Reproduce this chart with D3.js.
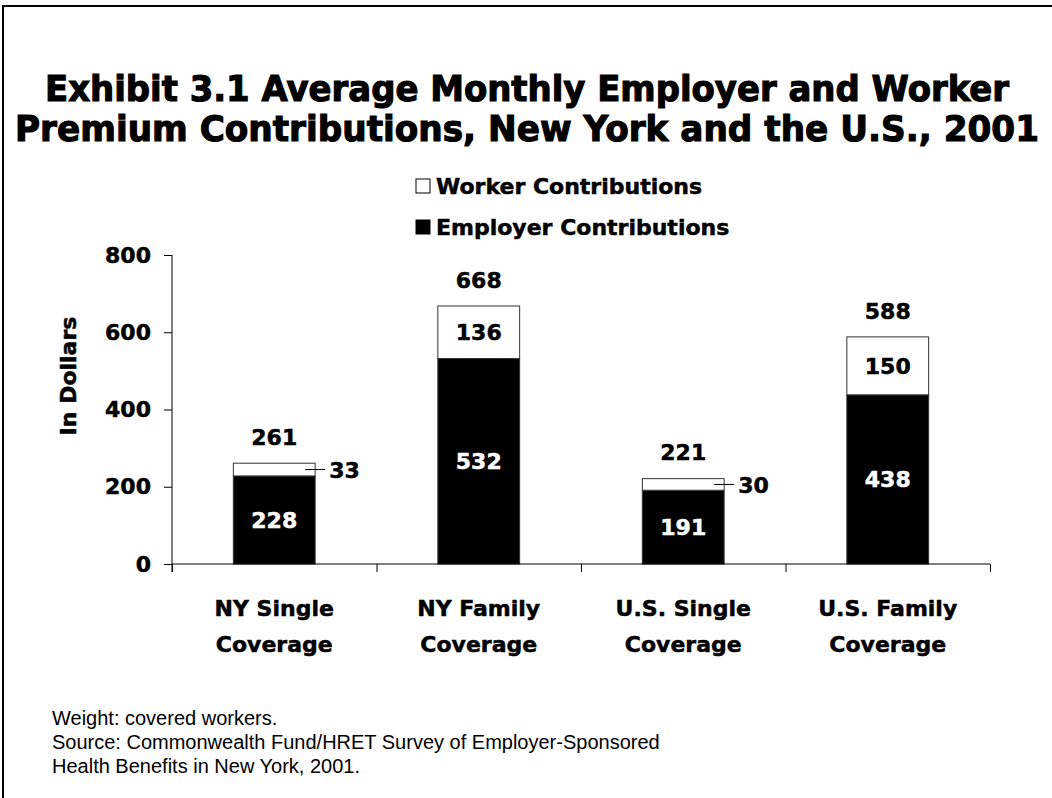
<!DOCTYPE html>
<html>
<head>
<meta charset="utf-8">
<script src="https://cdn.jsdelivr.net/npm/d3@7"></script>
<style>
  body { margin: 0; background: #fff; }
  svg { display: block; }
  .bold { font-family: "DejaVu Sans", sans-serif; font-weight: bold; stroke: #000; stroke-width: 0.5px; }
  .bold.inv { stroke: #fff; }
  .title { stroke-width: 1.1px; }
  .note { font-family: "Liberation Sans", Arial, sans-serif; font-size: 20px; }
</style>
</head>
<body>
<svg id="chart"></svg>
<script>
// chart data
const categories = [["NY Single", "Coverage"], ["NY Family", "Coverage"], ["U.S. Single", "Coverage"], ["U.S. Family", "Coverage"]];
const employer = [228, 532, 191, 438];
const worker = [33, 136, 30, 150];
const totals = [261, 668, 221, 588];
const yTicks = [0, 200, 400, 600, 800];
const seriesNames = ["Worker Contributions", "Employer Contributions"];
const titleLines = ["Exhibit 3.1 Average Monthly Employer and Worker", "Premium Contributions, New York and the U.S., 2001"];
const notes = ["Weight: covered workers.", "Source: Commonwealth Fund/HRET Survey of Employer-Sponsored", "Health Benefits in New York, 2001."];

const width = 1052, height = 798;
const titleWidths = [964, 1024];

const svg = d3.select("#chart")
    .attr("width", width)
    .attr("height", height);

// frame (runs off the right and bottom edge like the original)
svg.append("rect")
    .attr("x", 3).attr("y", 6)
    .attr("width", 1200).attr("height", 1000)
    .attr("fill", "none").attr("stroke", "#000").attr("stroke-width", 2);

// title
svg.selectAll(".title")
    .data(titleLines)
    .enter()
    .append("text")
    .attr("class", "title bold")
    .attr("x", (d, i) => 527 - titleWidths[i] / 2)
    .attr("y", (d, i) => 101 + i * 40)
    .attr("textLength", (d, i) => titleWidths[i])
    .attr("lengthAdjust", "spacingAndGlyphs")
    .style("font-size", "35px")
    .text(d => d);

// scales
const x = d3.scaleBand()
    .domain(d3.range(categories.length))
    .range([172, 990])
    .paddingInner(0.6)
    .paddingOuter(0.3);

const xEdge = d3.scaleLinear()
    .domain([0, categories.length])
    .range([172, 990]);

const y = d3.scaleLinear()
    .domain([0, 800])
    .range([564, 255]);

// stacked data: employer at the bottom, worker on top
const rows = categories.map((c, i) => ({ i: i, employer: employer[i], worker: worker[i] }));
const stacked = d3.stack().keys(["employer", "worker"])(rows);
const fills = { employer: "#000", worker: "#fff" };

const layer = svg.selectAll(".layer")
    .data(stacked)
    .enter()
    .append("g")
    .attr("class", "layer")
    .attr("fill", d => fills[d.key]);

layer.selectAll("rect")
    .data(d => d)
    .enter()
    .append("rect")
    .attr("x", d => x(d.data.i))
    .attr("y", d => y(d[1]))
    .attr("width", x.bandwidth())
    .attr("height", d => y(d[0]) - y(d[1]))
    .attr("stroke", "#333")
    .attr("stroke-width", 1);

// y axis
const yAxis = svg.append("g")
    .attr("transform", "translate(172,0)")
    .call(d3.axisLeft(y).tickValues(yTicks).tickSize(8).tickPadding(13));
yAxis.select(".domain").attr("d", `M0,${y(800)}V${y(0) + 8}`).attr("stroke", "#000");
yAxis.selectAll("text")
    .attr("class", "bold")
    .style("font-size", "22px")
    .attr("fill", "#000");

svg.append("text")
    .attr("class", "bold")
    .attr("transform", "translate(68,376) rotate(-90)")
    .attr("text-anchor", "middle")
    .attr("dy", "0.35em")
    .style("font-size", "22px")
    .text("In Dollars");

// x axis with ticks between categories
const xAxis = svg.append("g")
    .attr("transform", `translate(0,${y(0)})`)
    .call(d3.axisBottom(xEdge).tickValues(d3.range(categories.length + 1)).tickSize(8).tickFormat(""));
xAxis.select(".domain").attr("d", `M172,0H990`).attr("stroke", "#000");

// category labels
const catLabel = svg.selectAll(".cat")
    .data(categories)
    .enter()
    .append("text")
    .attr("class", "cat bold")
    .attr("text-anchor", "middle")
    .style("font-size", "22px");

catLabel.selectAll("tspan")
    .data((d, i) => d.map(line => ({ line: line, i: i })))
    .enter()
    .append("tspan")
    .attr("x", d => x(d.i) + x.bandwidth() / 2)
    .attr("y", (d, j) => 608 + j * 36)
    .attr("dy", "0.35em")
    .text(d => d.line);

// totals above bars
svg.selectAll(".total")
    .data(totals)
    .enter()
    .append("text")
    .attr("class", "total bold")
    .attr("x", (d, i) => x(i) + x.bandwidth() / 2)
    .attr("y", d => y(d) - 26)
    .attr("dy", "0.35em")
    .attr("text-anchor", "middle")
    .style("font-size", "22px")
    .text(d => d);

// employer values inside the black part
svg.selectAll(".emp")
    .data(employer)
    .enter()
    .append("text")
    .attr("class", "emp bold inv")
    .attr("x", (d, i) => x(i) + x.bandwidth() / 2)
    .attr("y", d => (y(0) + y(d)) / 2)
    .attr("dy", "0.35em")
    .attr("text-anchor", "middle")
    .attr("fill", "#fff")
    .style("font-size", "22px")
    .text(d => d);

// worker values: inside when there is room, else to the right with a leader line
worker.forEach((w, i) => {
    const mid = (y(employer[i]) + y(employer[i] + w)) / 2;
    const cx = x(i) + x.bandwidth() / 2;
    if (w > 60) {
        svg.append("text")
            .attr("class", "bold")
            .attr("x", cx).attr("y", mid).attr("dy", "0.35em")
            .attr("text-anchor", "middle")
            .style("font-size", "22px")
            .text(w);
    } else {
        const right = x(i) + x.bandwidth();
        svg.append("line")
            .attr("x1", right - 10).attr("x2", right + 10)
            .attr("y1", mid).attr("y2", mid)
            .attr("stroke", "#000").attr("stroke-width", 1);
        svg.append("text")
            .attr("class", "bold")
            .attr("x", right + 14).attr("y", mid + 1).attr("dy", "0.35em")
            .style("font-size", "22px")
            .text(w);
    }
});

// legend
const legend = svg.selectAll(".legend")
    .data(seriesNames)
    .enter()
    .append("g")
    .attr("class", "legend")
    .attr("transform", (d, i) => `translate(416,${186 + i * 41})`);

legend.append("rect")
    .attr("x", 0).attr("y", -7)
    .attr("width", 14).attr("height", 14)
    .attr("fill", (d, i) => i === 0 ? "#fff" : "#000")
    .attr("stroke", "#000").attr("stroke-width", 1);

legend.append("text")
    .attr("class", "bold")
    .attr("x", 20).attr("dy", "0.35em")
    .style("font-size", "22px")
    .text(d => d);

// footnotes
svg.selectAll(".note")
    .data(notes)
    .enter()
    .append("text")
    .attr("class", "note")
    .attr("x", 52)
    .attr("y", (d, i) => 718 + i * 24)
    .attr("dy", "0.35em")
    .text(d => d);
</script>
</body>
</html>
